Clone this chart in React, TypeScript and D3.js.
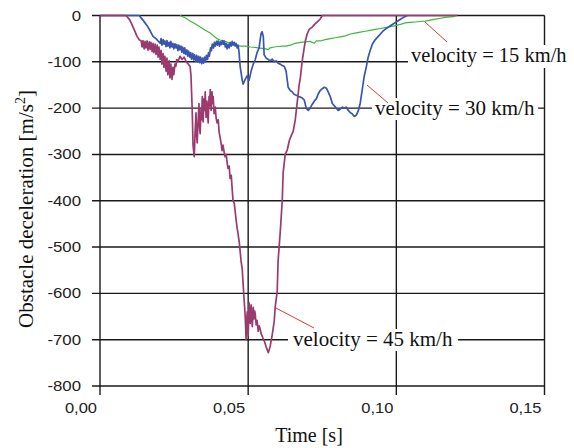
import React from "react";
import * as d3 from "d3";

// time in ms, deceleration in m/s^2
const series45: [number, number][] = [[0,0],[8.8,0],[10.1,-10],[11.5,-30],[12.5,-45],[13.2,-52],[13.9,-55],[14.2,-68],[14.5,-54],[14.9,-72],[15.2,-56],[15.5,-70],[15.9,-55],[16.2,-75],[16.6,-57],[16.9,-73],[17.2,-58],[17.6,-78],[17.9,-60],[18.2,-80],[18.6,-62],[18.9,-84],[19.3,-64],[19.6,-90],[19.9,-68],[20.3,-95],[20.6,-75],[20.9,-105],[21.3,-82],[21.6,-112],[21.9,-88],[22.3,-120],[22.6,-92],[22.9,-128],[23.3,-98],[23.6,-135],[23.9,-105],[24.3,-138],[24.6,-112],[24.9,-128],[25.3,-105],[25.6,-110],[25.9,-95],[26.4,-98],[27.0,-88],[27.7,-95],[28.4,-90],[29.1,-100],[29.7,-104],[30.4,-110],[30.7,-130],[31.1,-200],[31.4,-280],[31.8,-305],[32.1,-250],[32.4,-210],[32.6,-260],[32.8,-275],[33.1,-230],[33.4,-190],[33.6,-240],[33.8,-255],[34.1,-200],[34.3,-225],[34.5,-175],[34.8,-230],[35.1,-180],[35.3,-205],[35.5,-165],[35.8,-220],[36.1,-185],[36.3,-210],[36.5,-232],[36.8,-175],[37.0,-195],[37.2,-160],[37.5,-205],[37.8,-165],[38.0,-190],[38.2,-175],[38.5,-212],[38.9,-198],[39.2,-222],[39.5,-232],[39.9,-225],[40.2,-252],[40.5,-262],[40.9,-278],[41.2,-292],[41.5,-280],[41.9,-295],[42.2,-305],[42.6,-300],[42.9,-318],[43.2,-330],[43.6,-325],[43.9,-352],[44.3,-345],[44.6,-375],[44.9,-400],[45.3,-405],[45.6,-422],[45.9,-440],[46.3,-460],[46.6,-472],[47.0,-490],[47.3,-510],[47.6,-530],[48.0,-548],[48.3,-580],[48.6,-610],[49.0,-650],[49.3,-700],[49.5,-660],[49.7,-640],[50.0,-690],[50.2,-650],[50.3,-620],[50.7,-665],[50.9,-640],[51.0,-625],[51.4,-672],[51.6,-645],[51.7,-630],[52.0,-655],[52.2,-638],[52.4,-645],[52.7,-668],[53.0,-658],[53.4,-682],[53.7,-670],[54.1,-678],[54.4,-688],[54.7,-692],[55.1,-698],[55.4,-702],[55.8,-710],[56.1,-716],[56.8,-728],[57.4,-715],[58.1,-690],[58.8,-660],[59.1,-630],[59.8,-595],[60.1,-530],[60.8,-470],[61.5,-400],[61.8,-340],[62.5,-300],[63.2,-290],[63.9,-270],[64.5,-260],[65.2,-250],[65.9,-225],[66.6,-185],[67.2,-150],[67.6,-135],[68.2,-100],[68.9,-70],[69.3,-55],[69.9,-40],[70.6,-30],[71.6,-25],[72.6,-18],[73.6,-12],[74.3,-8],[75.0,0],[120.6,0]];

const series30: [number, number][] = [[0,0],[13.2,0],[14.5,-10],[15.9,-22],[16.9,-33],[17.9,-45],[18.9,-50],[19.6,-55],[20.3,-60],[20.6,-50],[20.9,-64],[21.3,-52],[21.6,-62],[21.9,-55],[22.3,-67],[22.6,-54],[22.9,-66],[23.3,-58],[23.6,-70],[23.9,-56],[24.3,-68],[24.6,-60],[24.9,-72],[25.3,-61],[25.6,-70],[25.9,-63],[26.3,-76],[26.6,-64],[26.9,-74],[27.3,-66],[27.6,-79],[27.9,-68],[28.3,-82],[28.6,-70],[28.9,-84],[29.3,-74],[29.6,-88],[29.9,-77],[30.3,-90],[30.6,-80],[30.9,-94],[31.3,-82],[31.6,-96],[31.9,-85],[32.3,-99],[32.6,-86],[32.9,-100],[33.3,-88],[33.6,-102],[33.9,-90],[34.3,-104],[34.6,-92],[34.9,-103],[35.3,-90],[35.6,-100],[35.9,-86],[36.3,-95],[36.6,-80],[36.9,-88],[37.3,-70],[37.6,-76],[37.9,-62],[38.3,-70],[38.6,-58],[38.9,-66],[39.3,-56],[39.6,-64],[39.9,-55],[40.3,-66],[40.6,-57],[40.9,-63],[41.3,-54],[41.6,-62],[41.9,-55],[42.3,-68],[42.6,-60],[42.9,-72],[43.3,-62],[43.6,-70],[43.9,-58],[44.3,-66],[44.6,-56],[44.9,-64],[45.3,-58],[45.6,-66],[45.9,-60],[46.3,-70],[46.6,-64],[46.9,-78],[47.3,-110],[48.0,-140],[48.3,-148],[49.0,-138],[49.7,-130],[50.3,-140],[51.0,-120],[51.7,-105],[52.4,-95],[53.0,-80],[53.7,-70],[54.1,-50],[54.4,-38],[54.7,-35],[55.1,-45],[55.4,-85],[56.1,-92],[56.8,-95],[57.4,-98],[58.1,-94],[58.8,-100],[59.5,-98],[60.1,-103],[60.8,-105],[61.5,-108],[62.2,-110],[62.8,-120],[63.5,-155],[64.2,-162],[64.9,-165],[65.5,-170],[66.2,-172],[66.9,-175],[67.6,-176],[68.2,-178],[68.9,-182],[69.6,-200],[70.3,-205],[70.9,-200],[71.6,-192],[72.3,-185],[73.0,-180],[73.6,-170],[74.3,-162],[75.0,-158],[75.7,-155],[76.4,-157],[77.0,-165],[77.7,-175],[78.4,-190],[79.1,-195],[79.7,-200],[80.4,-205],[81.1,-202],[81.8,-198],[82.4,-200],[83.1,-198],[83.8,-205],[84.5,-210],[85.1,-212],[85.8,-218],[86.5,-215],[87.2,-205],[87.8,-190],[88.5,-160],[89.2,-130],[89.9,-110],[90.5,-90],[91.2,-75],[91.9,-62],[92.9,-52],[93.9,-45],[95.3,-35],[96.6,-28],[98.0,-22],[99.7,-15],[101.4,-8],[102.7,-3],[103.7,0]];

const series15: [number, number][] = [[27.0,0],[28.7,-5],[30.4,-12],[32.1,-18],[33.8,-25],[35.5,-32],[37.2,-38],[38.5,-45],[39.5,-50],[40.5,-53],[42.2,-56],[43.9,-60],[45.6,-63],[47.3,-66],[49.0,-66],[50.7,-68],[52.4,-69],[53.4,-70],[54.7,-71],[56.1,-72],[56.8,-74],[57.4,-70],[58.8,-68],[60.1,-67],[61.5,-66],[62.8,-66],[64.2,-64],[65.9,-60],[67.6,-58],[69.3,-57],[70.9,-56],[72.3,-60],[73.0,-55],[74.3,-55],[76.0,-52],[77.7,-50],[79.4,-48],[81.1,-46],[82.8,-44],[84.5,-40],[86.1,-38],[87.8,-36],[89.5,-34],[91.2,-32],[92.9,-30],[94.6,-28],[96.3,-26],[98.0,-24],[99.7,-22],[101.4,-19],[103.0,-16],[104.7,-15],[106.4,-14],[108.1,-13],[109.8,-12],[111.5,-10],[113.2,-8],[114.9,-6],[116.6,-4],[118.2,-3],[119.9,-2]];

const xTicks = [0, 0.05, 0.1, 0.15];
const xTickLabels = ["0,00", "0,05", "0,10", "0,15"];
const yTicks = [0, -100, -200, -300, -400, -500, -600, -700, -800];
const seriesLabels = ["velocity = 15 km/h", "velocity = 30 km/h", "velocity = 45 km/h"];

const W = 574;
const H = 448;

export default function App() {
  const x = d3.scaleLinear().domain([0, 0.15]).range([100, 544.5]);
  const y = d3.scaleLinear().domain([-800, 0]).range([386, 15.5]);
  const line = d3
    .line<[number, number]>()
    .x((d) => x(d[0] / 1000))
    .y((d) => y(d[1]));

  const serif = "'Liberation Serif', 'Times New Roman', serif";
  const sans = "'Liberation Sans', Arial, sans-serif";
  const gridColor = "#1a1a1a";
  const x1 = x(0.15);

  return (
    <svg
      width={W}
      height={H}
      style={{ position: "absolute", left: 0, top: 0, background: "#fff" }}
    >
      <rect x={0} y={0} width={W} height={H} fill="#fff" />
      {yTicks.map((t) => (
        <line key={"h" + t} x1={92} x2={x1} y1={y(t)} y2={y(t)} stroke={gridColor} strokeWidth={1.4} />
      ))}
      {xTicks.map((t) => (
        <line key={"v" + t} x1={x(t)} x2={x(t)} y1={y(0)} y2={395} stroke={gridColor} strokeWidth={1.4} />
      ))}
      {yTicks.map((t) => (
        <g key={"yl" + t} transform={`translate(81,${y(t) + 5}) scale(1.12,1)`}>
          <text textAnchor="end" fontFamily={sans} fontSize={15} fill="#222">
            {t}
          </text>
        </g>
      ))}
      {xTicks.map((t, i) => (
        <g key={"xl" + t} transform={`translate(${x(t) - 3},413) scale(1.1,1)`}>
          <text textAnchor="end" fontFamily={sans} fontSize={15} fill="#222">
            {xTickLabels[i]}
          </text>
        </g>
      ))}
      <text
        transform={`translate(33,209) rotate(-90)`}
        textAnchor="middle"
        fontFamily={serif}
        fontSize={21}
        fill="#111"
      >
        Obstacle deceleration [m/s
        <tspan fontSize={14} dy={-8}>2</tspan>
        <tspan dy={8}>]</tspan>
      </text>
      <text x={309} y={442} textAnchor="middle" fontFamily={serif} fontSize={20} fill="#111">
        Time [s]
      </text>

      <path d={line(series15) || ""} fill="none" stroke="#3cb83c" strokeWidth={1.2} />
      <path d={line(series30) || ""} fill="none" stroke="#3a55b0" strokeWidth={1.7} strokeLinejoin="round" />
      <path d={line(series45) || ""} fill="none" stroke="#9a3a6e" strokeWidth={1.7} strokeLinejoin="round" />

      <rect x={408} y={45} width={166} height={23} fill="#fff" />
      <text x={411} y={62} fontFamily={serif} fontSize={20.5} fill="#111">
        {seriesLabels[0]}
      </text>
      <rect x={372} y={98} width={166} height={22} fill="#fff" />
      <text x={375} y={115} fontFamily={serif} fontSize={21} fill="#111">
        {seriesLabels[1]}
      </text>
      <rect x={288} y={329} width={170} height={22} fill="#fff" />
      <text x={293} y={346} fontFamily={serif} fontSize={21} fill="#111">
        {seriesLabels[2]}
      </text>

      <line x1={425} y1={22} x2={447} y2={42} stroke="#e03a2a" strokeWidth={1} />
      <line x1={367} y1={85} x2={388} y2={103} stroke="#e03a2a" strokeWidth={1} />
      <line x1={276} y1={308} x2={314} y2={328} stroke="#e03a2a" strokeWidth={1} />
    </svg>
  );
}
